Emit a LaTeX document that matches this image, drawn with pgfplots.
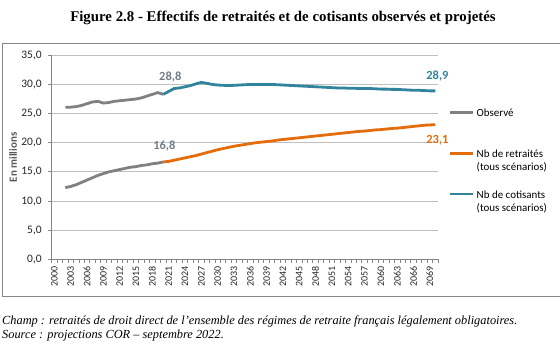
\documentclass[border=0pt]{standalone}
\usepackage{fontspec}
\setmainfont{Carlito}
\newfontfamily\serif{Liberation Serif}
\usepackage{pgfplots}
\pgfplotsset{compat=1.18}
\definecolor{obs}{RGB}{128,128,128}
\definecolor{ret}{RGB}{228,108,10}
\definecolor{cot}{RGB}{49,132,155}
\definecolor{lbl}{RGB}{115,125,138}
\definecolor{gridc}{RGB}{192,192,192}
\definecolor{axc}{RGB}{134,134,134}
\begin{document}
\begin{tikzpicture}[x=1bp,y=1bp]
\useasboundingbox (0,0) rectangle (560,353);
\draw[axc, line width=0.9bp] (560,310) -- (2,310) -- (2,57) -- (560,57);
\node[font=\serif\bfseries\fontsize{14.9}{16}\selectfont] at (283,335) {Figure 2.8 - Effectifs de retraités et de cotisants observés et projetés};
\node[anchor=west, inner sep=0, font=\serif\itshape\fontsize{12.4}{14}\selectfont] at (2,32) {Champ : retraités de droit direct de l’ensemble des régimes de retraite français légalement obligatoires.};
\node[anchor=west, inner sep=0, font=\serif\itshape\fontsize{12.4}{14}\selectfont] at (2,17) {Source : projections COR – septembre 2022.};
\begin{axis}[
  at={(51.7bp,93.7bp)}, anchor=south west,
  scale only axis, width=386.3bp, height=204bp,
  xmin=1999.5, xmax=2070.5, ymin=0, ymax=35,
  clip=false,
  axis lines*=left,
  axis line style={axc, line width=0.9bp},
  ytick={0,5,...,35},
  ymajorgrids, grid style={gridc, line width=1bp},
  tick align=outside,
  major tick length=3.5bp, minor tick length=3.5bp,
  tick style={axc, line width=0.8bp},
  xtick={2000,2003,...,2069},
  xticklabels={2000,2003,2006,2009,2012,2015,2018,2021,2024,2027,2030,2033,2036,2039,2042,2045,2048,2051,2054,2057,2060,2063,2066,2069},
  major x tick style={draw=none},
  minor xtick={1999.5,2000.5,...,2070.5},
  xticklabel style={rotate=90, anchor=east, font=\fontsize{10}{12}\selectfont, text=black!85},
  yticklabel style={font=\fontsize{11.5}{13}\selectfont, text=black!85, xshift=-3bp},
  /pgf/number format/assume math mode=true,
  yticklabel={\pgfmathprintnumber[fixed,fixed zerofill,precision=1,use comma]{\tick}},
  ylabel={\bfseries En millions},
  ylabel style={font=\fontsize{11}{13}\selectfont, text=black!65, at={(axis description cs:-0.1,0.5)}, anchor=center},
  legend style={at={(axis description cs:1.0285,0.756)}, anchor=north west, draw=none, fill=none,
    inner sep=0pt, row sep=26bp, column sep=0pt,
    font=\fontsize{11}{13.3}\selectfont},
  legend cell align=left,
  legend image code/.code={\draw[#1, line width=2.5bp] (0bp,0bp) -- (23bp,0bp);},
]
\addplot[obs, line width=2.8bp] coordinates {
(2002,26.1)(2003,26.1)(2004,26.2)(2005,26.4)(2006,26.7)(2007,27.0)(2008,27.1)(2009,26.8)(2010,26.9)(2011,27.1)(2012,27.2)(2013,27.3)(2014,27.4)(2015,27.5)(2016,27.7)(2017,28.0)(2018,28.3)(2019,28.6)(2020,28.3)};
\addlegendentry{\begin{tabular}[t]{@{}l@{}}Observé\\ \strut\end{tabular}}
\addplot[ret, line width=2.8bp] coordinates {
(2020,16.7)(2021,16.8)(2022,17.0)(2023,17.2)(2024,17.4)(2025,17.6)(2026,17.8)(2027,18.05)(2028,18.3)(2029,18.55)(2030,18.8)(2031,19.0)(2032,19.2)(2033,19.4)(2034,19.55)(2035,19.7)(2036,19.85)(2037,20.0)(2038,20.1)(2039,20.2)(2040,20.3)(2041,20.45)(2042,20.55)(2043,20.65)(2044,20.75)(2045,20.85)(2046,20.95)(2047,21.05)(2048,21.15)(2049,21.25)(2050,21.35)(2051,21.45)(2052,21.55)(2053,21.65)(2054,21.75)(2055,21.85)(2056,21.95)(2057,22.0)(2058,22.1)(2059,22.2)(2060,22.25)(2061,22.35)(2062,22.45)(2063,22.5)(2064,22.6)(2065,22.7)(2066,22.8)(2067,22.9)(2068,23.0)(2069,23.05)(2070,23.1)};
\addlegendentry{\begin{tabular}[t]{@{}l@{}}Nb de retraités\\(tous scénarios)\end{tabular}}
\addplot[cot, line width=2.8bp] coordinates {
(2020,28.3)(2021,28.8)(2022,29.3)(2023,29.4)(2024,29.6)(2025,29.8)(2026,30.1)(2027,30.35)(2028,30.2)(2029,30.0)(2030,29.9)(2031,29.85)(2032,29.8)(2033,29.85)(2034,29.9)(2035,29.95)(2036,30.0)(2037,30.0)(2038,30.0)(2039,30.0)(2040,30.0)(2041,29.95)(2042,29.9)(2043,29.85)(2044,29.8)(2045,29.75)(2046,29.7)(2047,29.65)(2048,29.6)(2049,29.55)(2050,29.5)(2051,29.45)(2052,29.4)(2053,29.4)(2054,29.35)(2055,29.35)(2056,29.3)(2057,29.3)(2058,29.3)(2059,29.25)(2060,29.2)(2061,29.2)(2062,29.15)(2063,29.15)(2064,29.1)(2065,29.05)(2066,29.0)(2067,29.0)(2068,28.95)(2069,28.9)(2070,28.9)};
\addlegendentry{\begin{tabular}[t]{@{}l@{}}Nb de cotisants\\(tous scénarios)\end{tabular}}
\addplot[obs, line width=2.8bp, forget plot] coordinates {
(2002,12.3)(2003,12.5)(2004,12.8)(2005,13.2)(2006,13.6)(2007,14.0)(2008,14.4)(2009,14.7)(2010,15.0)(2011,15.2)(2012,15.4)(2013,15.6)(2014,15.8)(2015,15.9)(2016,16.1)(2017,16.2)(2018,16.4)(2019,16.5)(2020,16.7)};
\node[font=\bfseries\fontsize{12.5}{14}\selectfont, text=lbl] at (axis cs:2021.3,28.8) [yshift=14bp] {28,8};
\node[font=\bfseries\fontsize{12.5}{14}\selectfont, text=lbl] at (axis cs:2020.2,16.8) [yshift=15.5bp] {16,8};
\node[font=\bfseries\fontsize{12.5}{14}\selectfont, text=cot] at (axis cs:2070.4,28.9) [yshift=15bp] {28,9};
\node[font=\bfseries\fontsize{12.5}{14}\selectfont, text=ret] at (axis cs:2070.4,23.1) [yshift=-15.5bp] {23,1};
\end{axis}
\end{tikzpicture}
\end{document}
